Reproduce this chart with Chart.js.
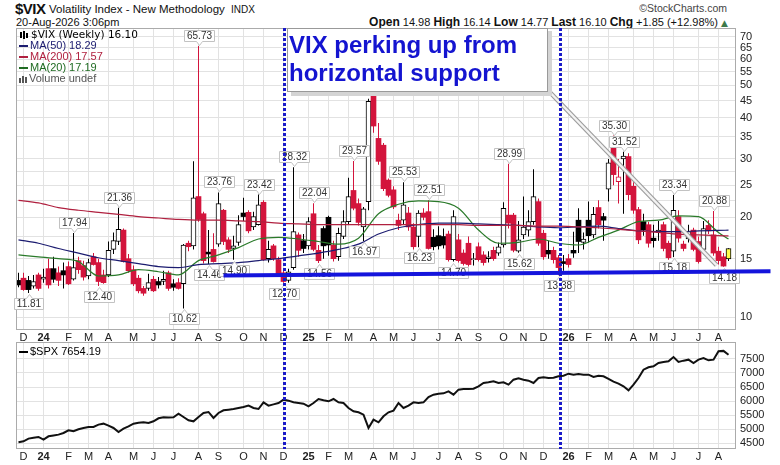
<!DOCTYPE html>
<html>
<head>
<meta charset="utf-8">
<script src="https://cdn.jsdelivr.net/npm/chart.js@4.4.1/dist/chart.umd.min.js"></script>
<style>
  body { margin: 0; background: #fff; width: 780px; height: 465px; overflow: hidden; position: relative;
         font-family: "Liberation Sans", Arial, sans-serif; color: #111; }
  .t { position: absolute; white-space: nowrap; line-height: 1; }
  #topWrap { position: absolute; left: 0; top: 28px; width: 780px; height: 314px; }
  #botWrap { position: absolute; left: 0; top: 342px; width: 780px; height: 123px; }
</style>
</head>
<body>
<div class="t" style="left:15px;top:1px;font-size:15px;font-weight:bold;letter-spacing:-0.5px">$VIX</div>
<div class="t" style="left:49px;top:4px;font-size:11.5px">Volatility Index - New Methodology <span style="font-size:10px;margin-left:3px">INDX</span></div>
<div class="t" style="left:16px;top:17px;font-size:11px">20-Aug-2026 3:06pm</div>
<div class="t" style="right:53px;top:3px;font-size:10.5px;color:#444">&copy;StockCharts.com</div>
<div class="t" id="quote" style="right:52px;top:16px;font-size:11px"></div>
<div id="topWrap"><canvas id="vixChart"></canvas></div>
<div id="botWrap"><canvas id="spxChart"></canvas></div>
<script>
// weekly bars, week 0 = week of 27-Nov-2023
const vixOpen = [
  12.9, 13.1, 12.9, 12.4, 13.4, 13.0, 14.0, 14.0, 13.6, 13.8,
  14.2, 13.0, 14.8, 14.3, 13.3, 15.2, 14.6, 13.4, 13.4, 16.0,
  16.9, 18.3, 15.0, 13.9, 13.1, 12.2, 12.2, 13.0, 12.8, 12.8,
  13.6, 12.6, 12.7, 12.6, 16.7, 16.4, 23.1, 20.5, 15.7, 16.0,
  16.6, 21.0, 17.1, 16.1, 16.8, 20.6, 20.7, 18.7, 19.0, 22.2,
  15.0, 16.4, 14.9, 13.6, 12.9, 14.1, 17.7, 17.0, 16.4, 20.5,
  15.9, 18.5, 20.0, 16.5, 15.2, 17.5, 19.4, 24.1, 22.0, 18.7,
  22.3, 52.0, 34.6, 33.0, 25.9, 24.2, 19.6, 19.6, 20.6, 18.7,
  17.5, 20.6, 20.8, 17.4, 17.6, 17.5, 17.8, 14.9, 17.1, 15.6,
  16.7, 14.9, 16.3, 15.4, 15.0, 15.9, 15.6, 16.5, 20.3, 20.3,
  15.8, 17.7, 18.3, 19.4, 22.3, 17.9, 15.9, 15.9, 15.1, 14.7,
  15.0, 15.9, 19.6, 16.8, 19.6, 17.7, 21.4, 20.1, 24.3, 34.5,
  25.6, 30.0, 30.5, 24.8, 21.1, 19.4, 19.0, 17.3, 18.0, 19.0,
  16.7, 15.8, 20.1, 16.6, 17.2, 18.3, 16.9, 16.0, 18.9, 17.7,
  15.8, 15.2, 14.98
];
const vixHigh = [
  13.6, 13.6, 13.3, 13.4, 13.6, 14.0, 15.0, 15.2, 14.2, 14.6,
  14.7, 17.94, 15.2, 14.8, 15.0, 15.6, 15.0, 13.9, 16.9, 18.0,
  21.36, 18.5, 15.5, 14.3, 13.4, 12.4, 13.5, 13.3, 13.2, 13.8,
  13.8, 13.0, 13.1, 16.6, 17.0, 29.5, 65.73, 20.8, 18.3, 17.9,
  23.76, 21.2, 17.4, 17.6, 20.3, 22.9, 21.0, 20.8, 23.42, 22.5,
  17.0, 16.6, 15.2, 14.0, 14.0, 28.32, 18.0, 17.8, 20.0, 22.04,
  16.5, 18.8, 20.2, 17.0, 18.6, 21.0, 26.3, 29.57, 22.8, 21.5,
  45.6, 60.1, 38.5, 33.5, 26.2, 24.8, 20.5, 25.53, 21.5, 19.2,
  21.0, 21.3, 22.51, 18.4, 18.8, 18.5, 18.2, 21.0, 17.8, 16.0,
  17.5, 15.6, 16.8, 15.8, 15.8, 16.3, 16.8, 22.2, 28.99, 20.6,
  19.5, 23.1, 21.0, 27.9, 22.8, 18.3, 17.0, 16.3, 15.4, 15.4,
  15.5, 18.1, 21.3, 18.0, 22.3, 21.5, 22.5, 20.6, 30.0, 35.30,
  30.0, 31.52, 31.2, 25.5, 21.5, 20.5, 19.4, 19.0, 19.5, 19.4,
  17.0, 23.34, 21.0, 17.0, 19.0, 18.6, 17.5, 19.5, 19.6, 20.88,
  16.3, 15.6, 16.14
];
const vixLow = [
  12.3, 12.0, 11.81, 12.2, 12.0, 12.7, 12.2, 12.7, 12.4, 12.2,
  12.5, 12.9, 13.5, 12.9, 13.0, 14.3, 12.40, 12.6, 13.2, 15.5,
  16.5, 14.6, 13.6, 12.4, 11.8, 11.6, 12.0, 11.9, 12.2, 12.5,
  12.0, 12.0, 12.1, 10.62, 15.8, 16.0, 19.4, 14.5, 14.46, 14.6,
  16.3, 16.5, 15.6, 14.90, 16.4, 19.5, 17.9, 18.3, 18.9, 14.8,
  14.6, 14.8, 13.2, 12.70, 12.7, 13.9, 15.2, 15.6, 16.0, 15.8,
  14.56, 15.0, 15.3, 14.7, 14.8, 17.2, 19.0, 21.0, 18.9, 16.97,
  21.0, 36.0, 28.8, 24.0, 23.0, 21.2, 18.3, 19.0, 18.2, 16.0,
  16.23, 19.6, 16.0, 15.9, 16.0, 16.1, 14.7, 14.70, 14.6, 14.3,
  14.2, 14.3, 14.7, 14.3, 14.6, 14.8, 15.3, 16.2, 18.5, 15.7,
  15.62, 17.2, 17.5, 19.0, 16.4, 14.9, 15.0, 14.5, 13.38, 13.8,
  14.1, 15.1, 15.6, 16.0, 16.8, 17.3, 18.5, 17.0, 22.3, 25.0,
  22.0, 20.5, 22.5, 20.5, 16.6, 17.6, 16.2, 16.2, 17.0, 15.8,
  14.9, 15.18, 16.8, 15.8, 16.8, 15.8, 14.5, 15.5, 17.8, 15.3,
  14.4, 14.18, 14.77
];
const vixClose = [
  12.5, 12.1, 12.1, 12.8, 12.2, 13.2, 12.5, 13.0, 12.9, 13.4,
  12.6, 14.1, 13.9, 13.2, 14.6, 14.4, 12.8, 12.7, 15.9, 17.0,
  18.4, 14.7, 13.8, 12.6, 12.0, 11.8, 12.7, 12.0, 12.5, 13.0,
  12.2, 12.3, 12.2, 16.5, 16.3, 22.9, 19.7, 14.8, 15.5, 14.7,
  22.0, 16.9, 16.0, 16.4, 19.0, 20.1, 18.2, 20.1, 21.8, 14.9,
  16.0, 15.0, 13.5, 12.8, 13.7, 18.1, 15.9, 16.1, 19.4, 16.0,
  14.8, 16.4, 16.5, 15.0, 17.9, 19.4, 23.1, 21.3, 19.3, 21.2,
  44.8, 37.7, 29.5, 24.4, 23.3, 21.5, 18.9, 21.8, 18.7, 16.3,
  20.6, 20.0, 16.1, 16.3, 16.4, 16.5, 14.9, 20.1, 14.8, 14.5,
  14.4, 15.0, 14.9, 14.6, 15.2, 15.0, 16.3, 21.3, 19.2, 15.9,
  17.1, 18.7, 19.4, 23.1, 16.7, 15.2, 15.5, 14.9, 14.1, 14.5,
  14.4, 15.6, 16.9, 17.2, 17.6, 20.4, 19.0, 19.6, 29.2, 26.9,
  26.5, 30.6, 23.4, 21.0, 17.1, 18.3, 16.7, 17.0, 18.3, 16.1,
  15.1, 21.0, 17.3, 16.1, 18.1, 16.0, 14.7, 18.5, 18.2, 15.6,
  14.8, 14.25, 16.10
];
const spxClose = [
  4525, 4560, 4656, 4690, 4715, 4620, 4739, 4770, 4799, 4858,
  4953, 4918, 4990, 5037, 5072, 5072, 5156, 5191, 5120, 5037,
  4894, 5013, 5096, 5191, 5220, 5239, 5215, 5275, 5382, 5418,
  5410, 5418, 5548, 5429, 5310, 5275, 5429, 5572, 5608, 5394,
  5572, 5667, 5690, 5715, 5750, 5786, 5834, 5751, 5715, 5953,
  5834, 5880, 5929, 6048, 6012, 5953, 5930, 5905, 5810, 5929,
  6072, 6024, 5989, 6072, 5953, 5929, 5751, 5632, 5596, 5513,
  5037, 5334, 5239, 5453, 5596, 5655, 5929, 5751, 5834, 5953,
  5929, 5953, 6143, 6227, 6262, 6274, 6346, 6227, 6405, 6429,
  6429, 6441, 6524, 6643, 6667, 6703, 6643, 6667, 6584, 6762,
  6810, 6762, 6727, 6643, 6822, 6845, 6822, 6834, 6881, 6905,
  6976, 6941, 6965, 6941, 6941, 6857, 6905, 6881, 6786, 6691,
  6619, 6524, 6381, 6584, 6822, 7119, 7203, 7238, 7357, 7393,
  7417, 7571, 7393, 7441, 7476, 7357, 7476, 7536, 7452, 7476,
  7780, 7790, 7654.19
];

// moving averages at these weeks
const maWeeks = [0, 4, 8, 12, 16, 20, 24, 28, 32, 36, 40, 44, 48, 52, 56, 60, 64, 68, 72, 76,
  80, 84, 88, 92, 96, 100, 104, 108, 112, 116, 120, 124, 128, 132, 136, 140, 142];
const ma50 = [17.1, 16.7, 16.1, 15.6, 15.1, 14.8, 14.5, 14.2, 14.1, 14.4, 14.5, 14.6, 14.8, 15.0, 15.3, 15.6,
  16.0, 16.6, 17.8, 18.6, 19.0, 19.2, 19.2, 19.1, 19.0, 18.9, 18.7, 18.6, 18.7, 18.8, 18.5, 18.2, 18.1, 18.1,
  18.2, 18.25, 18.29];
const ma200 = [22.5, 22.1, 21.4, 21.0, 20.7, 20.4, 20.1, 19.9, 19.7, 19.6, 19.6, 19.5, 19.4, 19.2, 19.1, 19.0,
  19.0, 19.0, 19.0, 19.0, 19.0, 19.0, 19.0, 18.9, 18.9, 18.9, 18.8, 18.8, 18.7, 18.6, 18.4, 18.2, 18.0, 17.8,
  17.7, 17.6, 17.57];
const ma20 = [15.4, 15.2, 15.0, 14.7, 13.3, 13.4, 13.9, 13.7, 13.4, 14.8, 15.4, 16.2, 17.2, 17.4, 17.2, 16.9,
  16.6, 17.3, 20.5, 21.9, 22.4, 22.3, 21.3, 18.3, 16.7, 16.8, 17.2, 16.7, 16.5, 17.4, 18.3, 19.4, 19.6, 20.2,
  20.1, 18.0, 17.19];

const monthLabels = ['D', '24', 'F', 'M', 'A', 'M', 'J', 'J', 'A', 'S', 'O', 'N',
  'D', '25', 'F', 'M', 'A', 'M', 'J', 'J', 'A', 'S', 'O', 'N',
  'D', '26', 'F', 'M', 'A', 'M', 'J', 'J', 'A'];
const vixTickLabels = [10, 15, 20, 25, 30, 35, 40, 45, 50, 55, 60, 65, 70];
const vixGridValues = [10, 12.5, 15, 17.5, 20, 22.5, 25, 27.5, 30, 35, 40, 45, 50, 55, 60, 65, 70];
const spxTicks = [4500, 5000, 5500, 6000, 6500, 7000, 7500];

// weeks whose high / low carry a price tag
const tagHighWeeks = [11, 20, 36, 40, 48, 55, 59, 67, 77, 82, 98, 119, 121, 131, 139];
const tagLowWeeks = [2, 16, 33, 38, 43, 53, 60, 69, 80, 87, 100, 108, 131, 141];

// annotations in data units: [week, value]
const markerWeeks = [53.1, 108.2];
const supportLine = [[41.0, 13.35], [150.4, 13.75]];
const trendLine = [[104.3, 51.2], [139.6, 14.35]];

const RED = '#d3143c';
const GRID = '#e2e2e2';
const FRAME = '#ababab';
const FONT = '"Liberation Sans", Arial, sans-serif';
Chart.defaults.font.family = FONT;
Chart.defaults.color = '#222';

const weeks = vixClose.map((_, i) => i);
const lastIdx = weeks.length - 1;
const weekDates = weeks.map(i => new Date(2023, 10, 27 + 7 * i));
const monthWeeks = weeks.filter(i => weekDates[i].getDate() <= 7);

const chg = vixClose[lastIdx] - vixClose[lastIdx - 1];
document.getElementById('quote').innerHTML =
  `<b style="font-size:12px">Open</b> ${vixOpen[lastIdx].toFixed(2)} <b style="font-size:12px">High</b> ${vixHigh[lastIdx].toFixed(2)} ` +
  `<b style="font-size:12px">Low</b> ${vixLow[lastIdx].toFixed(2)} <b style="font-size:12px">Last</b> ${vixClose[lastIdx].toFixed(2)} ` +
  `<b style="font-size:12px">Chg</b> +${chg.toFixed(2)} (+${(chg / vixClose[lastIdx - 1] * 100).toFixed(2)}%) ` +
  `<span style="color:#3d7a4a;font-size:9px;font-family:'DejaVu Sans'">&#9650;</span>`;

const candleColor = i => (i > 0 && vixClose[i] < vixClose[i - 1]) ? RED : '#000';
const hollow = i => vixClose[i] > vixOpen[i];

function xAxis(height) {
  return {
    type: 'linear', min: -0.5, max: 143.5, offset: false, bounds: 'data',
    afterBuildTicks: s => { s.ticks = monthWeeks.map(v => ({ value: v })); },
    afterFit: s => { s.height = height; s.paddingLeft = 0; s.paddingRight = 0; },
    grid: { color: GRID, drawTicks: false, offset: false },
    border: { display: false },
    ticks: {
      autoSkip: false, maxRotation: 0, padding: 1, color: '#222',
      font: c => ({ size: 11, weight: /\d/.test(monthLabels[c.index] || '') ? 'bold' : 'normal' }),
      callback: (v, idx) => monthLabels[idx]
    }
  };
}

function priceTag(ctx, px, py, value, above) {
  const txt = value.toFixed(2);
  const w = Math.round(ctx.measureText(txt).width) + 5, h = 11;
  const left = Math.round(px - w / 2) + 0.5;
  const top = above ? Math.round(py) - 5 - h + 0.5 : Math.round(py) + 5 + 0.5;
  const cx = Math.round(px) + 0.5;
  ctx.beginPath();
  if (above) {
    ctx.moveTo(left, top); ctx.lineTo(left + w, top); ctx.lineTo(left + w, top + h);
    ctx.lineTo(cx + 3, top + h); ctx.lineTo(cx, top + h + 4); ctx.lineTo(cx - 3, top + h); ctx.lineTo(left, top + h);
  } else {
    ctx.moveTo(left, top); ctx.lineTo(cx - 3, top); ctx.lineTo(cx, top - 4); ctx.lineTo(cx + 3, top);
    ctx.lineTo(left + w, top); ctx.lineTo(left + w, top + h); ctx.lineTo(left, top + h);
  }
  ctx.closePath();
  ctx.fillStyle = '#fff'; ctx.fill();
  ctx.strokeStyle = '#c2c2c2'; ctx.lineWidth = 1; ctx.stroke();
  ctx.fillStyle = '#333';
  ctx.fillText(txt, left + w / 2, top + h / 2 + 0.5);
}

function lineIcon(ctx, y, color) {
  ctx.fillStyle = color;
  ctx.fillRect(19, y - 1, 9, 2);
}

const vixOverlay = {
  id: 'vixOverlay',
  afterDraw(chart) {
    const { ctx, chartArea: a, scales: { x, y } } = chart;
    ctx.save();
    ctx.strokeStyle = FRAME; ctx.lineWidth = 1;
    ctx.strokeRect(a.left + 0.5, a.top + 0.5, a.width - 1, a.height - 1);

    ctx.font = '10px ' + FONT;
    ctx.textAlign = 'center'; ctx.textBaseline = 'middle';
    tagHighWeeks.forEach(w => priceTag(ctx, x.getPixelForValue(w), y.getPixelForValue(vixHigh[w]), vixHigh[w], true));
    tagLowWeeks.forEach(w => priceTag(ctx, x.getPixelForValue(w), y.getPixelForValue(vixLow[w]), vixLow[w], false));

    const seg = pts => pts.map(p => [x.getPixelForValue(p[0]), y.getPixelForValue(p[1])]);
    const t = seg(trendLine);
    ctx.beginPath(); ctx.moveTo(t[0][0], t[0][1]); ctx.lineTo(t[1][0], t[1][1]);
    ctx.strokeStyle = '#9c9c9c'; ctx.lineWidth = 4.6; ctx.stroke();
    ctx.strokeStyle = '#f3f3f3'; ctx.lineWidth = 2.4; ctx.stroke();

    const s = seg(supportLine);
    ctx.beginPath(); ctx.moveTo(s[0][0], s[0][1]); ctx.lineTo(s[1][0], s[1][1]);
    ctx.strokeStyle = '#1414dc'; ctx.lineWidth = 4; ctx.stroke();

    ctx.setLineDash([3, 2]); ctx.lineWidth = 3; ctx.strokeStyle = '#1a1ac8';
    markerWeeks.forEach(w => {
      const px = Math.round(x.getPixelForValue(w)) + 0.5;
      ctx.beginPath(); ctx.moveTo(px, a.top); ctx.lineTo(px, chart.height); ctx.stroke();
    });
    ctx.setLineDash([]);

    // callout box
    ctx.fillStyle = '#d4d4d4'; ctx.fillRect(291, a.top + 3, 261, 65);
    ctx.fillStyle = '#fff'; ctx.fillRect(287, a.top, 261, 64);
    ctx.strokeStyle = '#999'; ctx.lineWidth = 1; ctx.strokeRect(287.5, a.top + 0.5, 260, 63);
    ctx.fillStyle = '#1414d0'; ctx.textAlign = 'left'; ctx.textBaseline = 'alphabetic';
    ctx.font = 'bold 24px ' + FONT;
    ctx.fillText('VIX perking up from', 289, a.top + 25);
    ctx.fillText('horizontal support', 289, a.top + 53);

    // legend
    ctx.textBaseline = 'middle';
    ctx.fillStyle = '#000';
    ctx.fillRect(20, a.top + 4, 2, 6); ctx.fillRect(23, a.top + 3, 2, 8); ctx.fillRect(26, a.top + 5, 2, 5);
    ctx.font = '10.5px "DejaVu Sans", sans-serif';
    ctx.fillText('$VIX (Weekly) ' + vixClose[lastIdx].toFixed(2), 31, a.top + 7);
    ctx.font = '11px ' + FONT;
    const rows = [['MA(50) ' + ma50[ma50.length - 1].toFixed(2), '#1c1c70'],
                  ['MA(200) ' + ma200[ma200.length - 1].toFixed(2), '#b0203f'],
                  ['MA(20) ' + ma20[ma20.length - 1].toFixed(2), '#1f6b22']];
    rows.forEach((r, k) => {
      const yy = a.top + 18 + k * 11;
      lineIcon(ctx, yy, r[1]);
      ctx.fillStyle = r[1]; ctx.fillText(r[0], 30, yy);
    });
    const vy = a.top + 51;
    ctx.fillStyle = '#555';
    ctx.fillRect(19, vy - 1, 2, 5); ctx.fillRect(22, vy - 3, 2, 7); ctx.fillRect(25, vy - 2, 2, 6);
    ctx.fillText('Volume undef', 29, vy);
    ctx.restore();
  }
};

const spxOverlay = {
  id: 'spxOverlay',
  afterDraw(chart) {
    const { ctx, chartArea: a, scales: { x } } = chart;
    ctx.save();
    ctx.strokeStyle = FRAME; ctx.lineWidth = 1;
    ctx.strokeRect(a.left + 0.5, a.top + 0.5, a.width - 1, a.height - 1);
    ctx.setLineDash([3, 2]); ctx.lineWidth = 3; ctx.strokeStyle = '#1a1ac8';
    markerWeeks.forEach(w => {
      const px = Math.round(x.getPixelForValue(w)) + 0.5;
      ctx.beginPath(); ctx.moveTo(px, 0); ctx.lineTo(px, a.bottom); ctx.stroke();
    });
    ctx.setLineDash([]);
    lineIcon(ctx, a.top + 10, '#000');
    ctx.fillStyle = '#000'; ctx.font = '11px ' + FONT; ctx.textBaseline = 'middle';
    ctx.fillText('$SPX ' + spxClose[lastIdx].toFixed(2), 30, a.top + 10);
    ctx.restore();
  }
};

const maSet = (values, color) => ({
  type: 'line', data: maWeeks.map((w, k) => ({ x: w, y: values[k] })),
  borderColor: color, borderWidth: 1.2, pointRadius: 0, cubicInterpolationMode: 'monotone', order: 0
});

new Chart(document.getElementById('vixChart'), {
  type: 'bar',
  data: {
    datasets: [
      maSet(ma200, '#b0203f'),
      maSet(ma50, '#1c1c70'),
      maSet(ma20, '#2a7a2a'),
      {
        data: weeks.map(i => ({ x: i, y: [vixOpen[i], vixClose[i]] })),
        backgroundColor: weeks.map(i => i === lastIdx ? '#ffff4a' : hollow(i) ? '#fff' : candleColor(i)),
        borderColor: weeks.map(i => candleColor(i)),
        borderWidth: weeks.map(i => hollow(i) ? 1 : 0),
        borderSkipped: false, grouped: false, barPercentage: 1, categoryPercentage: 1,
        maxBarThickness: 5, minBarLength: 1, order: 1
      },
      {
        data: weeks.map(i => ({ x: i, y: [vixLow[i], vixHigh[i]] })),
        backgroundColor: weeks.map(i => candleColor(i)),
        borderWidth: 0, grouped: false, maxBarThickness: 1, order: 2
      }
    ]
  },
  options: {
    animation: false, responsive: true, maintainAspectRatio: false,
    layout: { padding: { left: 16, top: 0, right: 0, bottom: 0 } },
    plugins: { legend: { display: false }, tooltip: { enabled: false } },
    scales: {
      x: xAxis(12),
      y: {
        type: 'logarithmic', position: 'right', min: 9.14, max: 74.5, bounds: 'data',
        afterBuildTicks: s => { s.ticks = vixGridValues.map(v => ({ value: v })); },
        afterFit: s => { s.width = 44; s.paddingTop = 0; s.paddingBottom = 0; },
        grid: { color: GRID, drawTicks: false },
        border: { display: false },
        ticks: { autoSkip: false, padding: 4, color: '#222', font: { size: 11 },
                 callback: v => vixTickLabels.includes(v) ? String(v) : '' }
      }
    }
  },
  plugins: [vixOverlay]
});

new Chart(document.getElementById('spxChart'), {
  type: 'line',
  data: {
    datasets: [{
      data: weeks.map(i => ({ x: i, y: spxClose[i] })),
      borderColor: '#111', borderWidth: 2, pointRadius: 0, tension: 0
    }]
  },
  options: {
    animation: false, responsive: true, maintainAspectRatio: false,
    layout: { padding: { left: 16, top: 0, right: 0, bottom: 0 } },
    plugins: { legend: { display: false }, tooltip: { enabled: false } },
    scales: {
      x: xAxis(16),
      y: {
        type: 'linear', position: 'right', min: 4286, max: 8107, bounds: 'data',
        afterBuildTicks: s => { s.ticks = spxTicks.map(v => ({ value: v })); },
        afterFit: s => { s.width = 44; s.paddingTop = 0; s.paddingBottom = 0; },
        grid: { color: GRID, drawTicks: false },
        border: { display: false },
        ticks: { autoSkip: false, padding: 4, color: '#222', font: { size: 11 }, callback: v => String(v) }
      }
    }
  },
  plugins: [spxOverlay]
});
</script>
</body>
</html>
